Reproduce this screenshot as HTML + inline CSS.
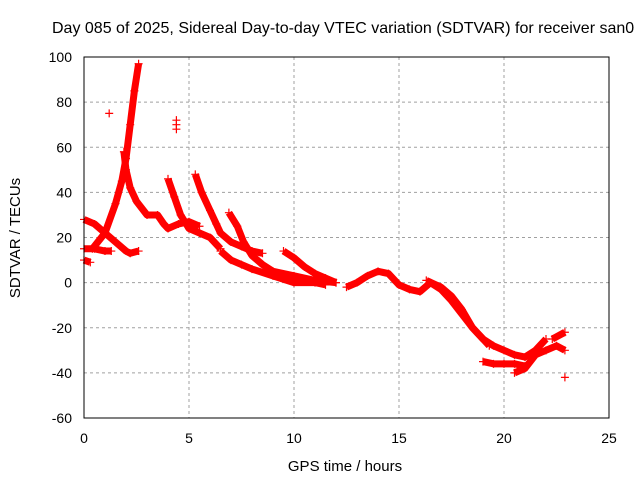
<!DOCTYPE html>
<html><head><meta charset="utf-8"><style>
body{margin:0;background:#fff;}
svg text{font-family:"Liberation Sans",sans-serif;font-size:14px;fill:#000;}
</style></head><body>
<svg width="640" height="480" xmlns="http://www.w3.org/2000/svg">
<rect width="640" height="480" fill="#fff"/>
<text x="52" y="33" style="font-size:16px">Day 085 of 2025, Sidereal Day-to-day VTEC variation (SDTVAR) for receiver san0</text>
<g id="grid"></g>
<g id="ticks"></g>
<g id="series"></g>
<rect x="84" y="57" width="525" height="361" fill="none" stroke="#000" stroke-width="1"/>
<text x="0" y="0" transform="translate(20,238) rotate(-90)" text-anchor="middle" style="font-size:15px">SDTVAR / TECUs</text>
<text x="345" y="471" text-anchor="middle" style="font-size:15px">GPS time / hours</text>
</svg>
<script>
const xTicks=[0,5,10,15,20,25];
const yTicks=[-60,-40,-20,0,20,40,60,80,100];
const track1=[[0,28],[0.5,26],[1,22],[1.5,18],[2,14],[2.2,13],[2.6,14]];
const track2=[[0,15],[0.5,15],[1,14],[1.3,14]];
const track2b=[[0,10],[0.3,9]];
const track3=[[0.4,15],[1,22],[1.5,35],[1.8,45],[2,55],[2.2,70],[2.4,85],[2.6,97]];
const track4=[[1.9,58],[2,50],[2.2,42],[2.5,36],[3,30],[3.5,30],[3.8,26],[4,24],[4.5,26],[5,27],[5.5,25]];
const track5=[[4,46],[4.3,38],[4.6,30],[5,24],[5.5,22],[6,20],[6.5,15]];
const track6=[[5.3,48],[5.6,40],[6,32],[6.3,26],[6.5,22],[7,18],[7.5,16],[8,14],[8.5,13]];
const track7=[[6.9,31],[7.3,25],[7.6,18],[8,12],[8.5,8],[9,5],[10,3],[11,1],[12,0]];
const track8=[[6.5,14],[7,10],[7.5,8],[8,6],[9,3],[10,0],[11,0],[11.5,-1]];
const track9=[[9.5,14],[10,11],[10.5,7],[11,4],[11.5,2],[12,0]];
const track10=[[12.5,-2],[13,0],[13.5,3],[14,5],[14.5,4],[15,-1],[15.5,-3],[16,-4],[16.5,0],[17,-3],[17.5,-8],[18,-14],[18.5,-20],[19,-25],[19.5,-28],[20,-30],[20.5,-32],[21,-33],[21.5,-30],[22,-25]];
const track11=[[16.3,1],[17,-2],[17.5,-6],[18,-12],[18.5,-20],[19,-25],[19.3,-28]];
const track12=[[19,-35],[19.5,-36],[20,-36],[20.5,-36],[21,-37]];
const track13=[[20.5,-40],[21,-38],[21.5,-32],[22,-30],[22.5,-28],[22.9,-30]];
const track14=[[22.3,-25],[22.9,-22]];
const singles=[[1.2,75],[4.4,72],[4.4,70],[4.4,68],[22.9,-42]];
const tracks=[track1,track2,track2b,track3,track4,track5,track6,track7,track8,track9,track10,track11,track12,track13,track14];
const NS='http://www.w3.org/2000/svg';
const xs=v=>84+v*21;
const ys=v=>57+(100-v)*361/160;
function mk(tag,attrs,parent){const e=document.createElementNS(NS,tag);for(const k in attrs)e.setAttribute(k,attrs[k]);parent.appendChild(e);return e;}
const grid=document.getElementById('grid'),ticks=document.getElementById('ticks'),series=document.getElementById('series');
xTicks.forEach(t=>{
  if(t>0&&t<25){const l=mk('line',{x1:xs(t),x2:xs(t),y1:57,y2:418,stroke:'#a0a0a0','stroke-dasharray':'3,3'},grid);
  
  }
  const tx=mk('text',{x:xs(t),y:443,'text-anchor':'middle'},ticks);tx.textContent=t;
  
  
});
yTicks.forEach(t=>{
  if(t>-60&&t<100){const l=mk('line',{x1:84,x2:609,y1:ys(t),y2:ys(t),stroke:'#a0a0a0','stroke-dasharray':'3,3'},grid);
  
  }
  const tx=mk('text',{x:72,y:ys(t)+5,'text-anchor':'end'},ticks);tx.textContent=t;
  
  
});
function plus(x,y){const p=mk('path',{d:`M${x-4},${y}h8M${x},${y-4}v8`,stroke:'#f00','stroke-width':1.2},series);
  
  }
tracks.forEach(tr=>{
  const pl=mk('polyline',{points:tr.map(p=>xs(p[0])+','+ys(p[1])).join(' '),fill:'none',stroke:'#f00','stroke-width':7,'stroke-linejoin':'round'},series);
  
  
  tr.forEach(p=>plus(xs(p[0]),ys(p[1])));
});
singles.forEach(p=>plus(xs(p[0]),ys(p[1])));
</script>
</body></html>
